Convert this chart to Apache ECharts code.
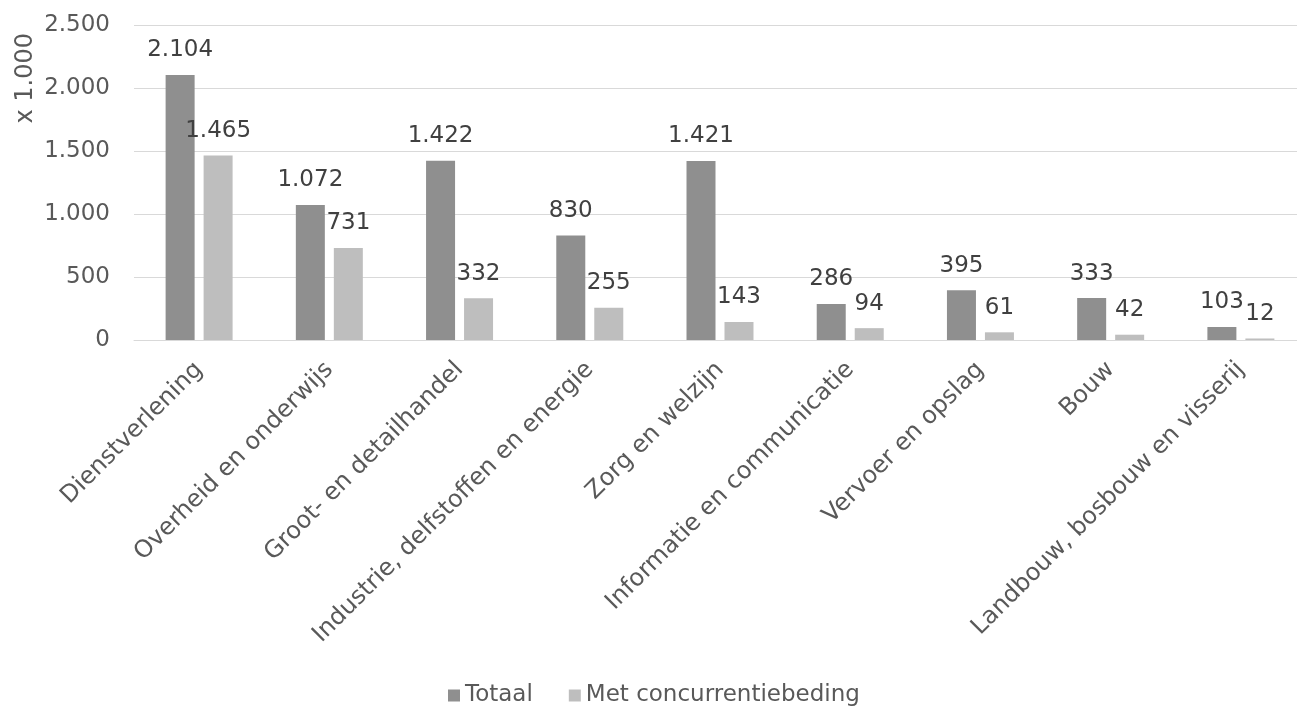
<!DOCTYPE html>
<html>
<head>
<meta charset="utf-8">
<script src="https://cdn.jsdelivr.net/npm/echarts@6/dist/echarts.min.js"></script>
<style>
  html, body { margin: 0; padding: 0; background: #fff; overflow: hidden; }
  #chart { width: 1310px; height: 709px; }
</style>
</head>
<body>
<div id="chart"></div>
<script>
// sectors, values x 1.000
const categories = [
  'Dienstverlening',
  'Overheid en onderwijs',
  'Groot- en detailhandel',
  'Industrie, delfstoffen en energie',
  'Zorg en welzijn',
  'Informatie en communicatie',
  'Vervoer en opslag',
  'Bouw',
  'Landbouw, bosbouw en visserij'
]
const totaal = [2104, 1072, 1422, 830, 1421, 286, 395, 333, 103]
const metBeding = [1465, 731, 332, 255, 143, 94, 61, 42, 12]

const font = 'DejaVu Sans'

// dutch thousands separator: 2104 -> 2.104
function nl(v) {
  return String(v).replace(/\B(?=(\d{3})+(?!\d))/g, '.')
}

const chart = echarts.init(document.getElementById('chart'))

// the plot runs a little past the right edge of the picture, as in the original
chart.setOption({
  animation: false,
  textStyle: { fontFamily: font },
  grid: {
    left: 134,
    top: 25,
    right: 4,
    height: 315
  },
  legend: {
    top: 679,
    left: 443,
    itemWidth: 12,
    itemHeight: 12,
    itemGap: 36,
    icon: 'rect',
    textStyle: { fontFamily: font, fontSize: 23, color: '#595959' },
    data: ['Totaal', 'Met concurrentiebeding']
  },
  graphic: [{
    type: 'text',
    left: 14,
    top: 33,
    rotation: Math.PI / 2,
    style: {
      text: 'x 1.000',
      font: '24px "DejaVu Sans"',
      fill: '#595959'
    }
  }],
  xAxis: {
    type: 'category',
    data: categories,
    axisTick: { show: false },
    axisLine: { lineStyle: { color: '#d9d9d9' } },
    axisLabel: {
      interval: 0,
      rotate: 45,
      margin: 26,
      fontSize: 24,
      color: '#595959',
      fontFamily: font
    }
  },
  yAxis: {
    type: 'value',
    min: 0,
    max: 2500,
    interval: 500,
    axisLine: { show: false },
    axisTick: { show: false },
    splitLine: { lineStyle: { color: '#d9d9d9' } },
    axisLabel: {
      margin: 24,
      fontSize: 23,
      color: '#595959',
      fontFamily: font,
      formatter: nl
    }
  },
  series: [
    {
      name: 'Totaal',
      type: 'bar',
      data: totaal,
      barWidth: 29,
      barGap: '31%',
      itemStyle: { color: '#8f8f8f' },
      label: {
        show: true,
        position: 'top',
        distance: 13,
        fontSize: 23,
        color: '#404040',
        fontFamily: font,
        formatter: p => nl(p.value)
      }
    },
    {
      name: 'Met concurrentiebeding',
      type: 'bar',
      data: metBeding,
      barWidth: 29,
      itemStyle: { color: '#bebebe' },
      label: {
        show: true,
        position: 'top',
        distance: 13,
        fontSize: 23,
        color: '#404040',
        fontFamily: font,
        formatter: p => nl(p.value)
      }
    }
  ]
})
</script>
</body>
</html>
